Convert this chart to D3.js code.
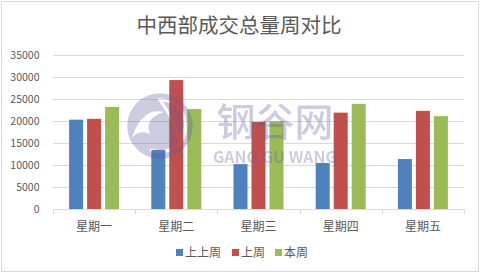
<!DOCTYPE html>
<html>
<head>
<meta charset="utf-8">
<script src="https://cdn.jsdelivr.net/npm/d3@7"></script>
<style>
  body { margin: 0; background: #fff; }
  text { font-family: "Noto Sans CJK SC", "Liberation Sans", sans-serif; }
</style>
</head>
<body>
<div id="chart"></div>
<script>
// chart data
var title = "中西部成交总量周对比";
var days = ["星期一", "星期二", "星期三", "星期四", "星期五"];
var seriesNames = ["上上周", "上周", "本周"];
var weekBeforeLast = [20300, 13400, 10200, 10450, 11350];
var lastWeek = [20500, 29300, 19800, 21900, 22300];
var thisWeek = [23200, 22700, 20000, 23900, 21100];
var yTicks = [0, 5000, 10000, 15000, 20000, 25000, 30000, 35000];

var colors = ["#4f81bd", "#c0504d", "#9bbb59"];
var values = [weekBeforeLast, lastWeek, thisWeek];

var W = 481, H = 273;
var plot = {left: 53, right: 464, top: 55, bottom: 209};

var svg = d3.select("#chart").append("svg")
  .attr("width", W).attr("height", H);

// outer border
svg.append("rect")
  .attr("x", 1.5).attr("y", 1.5)
  .attr("width", 477).attr("height", 270)
  .attr("fill", "#fff").attr("stroke", "#d9d9d9");

// title
svg.append("text")
  .attr("x", 239).attr("y", 33)
  .attr("text-anchor", "middle")
  .attr("font-size", 20.5)
  .attr("fill", "#595959")
  .text(title);

////////// scales //////////
var x0 = d3.scaleBand().domain(days).range([plot.left, plot.right]);
var x1 = d3.scaleBand().domain(seriesNames).range([0, 50]).paddingInner(0.222);
var groupOffset = (x0.bandwidth() - 50) / 2;
var y = d3.scaleLinear().domain([0, 35000]).range([plot.bottom, plot.top]);

////////// gridlines + y labels //////////
svg.append("g").selectAll("line")
  .data(yTicks.slice(1))
  .enter().append("line")
  .attr("x1", plot.left).attr("x2", plot.right)
  .attr("y1", function(d) { return Math.round(y(d)) + 0.5; })
  .attr("y2", function(d) { return Math.round(y(d)) + 0.5; })
  .attr("stroke", "#d9d9d9");

svg.append("g").selectAll("text")
  .data(yTicks)
  .enter().append("text")
  .attr("x", 39.5)
  .attr("y", function(d) { return y(d) + 3.8; })
  .attr("text-anchor", "end")
  .attr("font-family", "Liberation Sans, Arial, sans-serif")
  .attr("font-size", 10.5)
  .attr("fill", "#595959")
  .text(function(d) { return d; });

////////// bars //////////
var groups = svg.append("g").selectAll("g")
  .data(days)
  .enter().append("g")
  .attr("transform", function(d) { return "translate(" + (x0(d) + groupOffset) + ",0)"; });

groups.selectAll("rect")
  .data(function(d, i) {
    return seriesNames.map(function(s, k) { return {s: s, k: k, v: values[k][i]}; });
  })
  .enter().append("rect")
  .attr("x", function(d) { return x1(d.s); })
  .attr("width", x1.bandwidth())
  .attr("y", function(d) { return y(d.v); })
  .attr("height", function(d) { return y(0) - y(d.v); })
  .attr("fill", function(d) { return colors[d.k]; });

////////// x axis //////////
var xAxis = svg.append("g");
xAxis.append("line")
  .attr("x1", plot.left).attr("x2", plot.right)
  .attr("y1", plot.bottom + 0.5).attr("y2", plot.bottom + 0.5)
  .attr("stroke", "#d9d9d9");
xAxis.selectAll("line.tick")
  .data(days.concat(["end"]))
  .enter().append("line")
  .attr("class", "tick")
  .attr("x1", function(d) { return Math.round(d == "end" ? plot.right : x0(d)) + 0.5; })
  .attr("x2", function(d) { return Math.round(d == "end" ? plot.right : x0(d)) + 0.5; })
  .attr("y1", plot.bottom).attr("y2", plot.bottom + 5)
  .attr("stroke", "#d9d9d9");
xAxis.selectAll("text")
  .data(days)
  .enter().append("text")
  .attr("x", function(d) { return x0(d) + x0.bandwidth() / 2; })
  .attr("y", 230.5)
  .attr("text-anchor", "middle")
  .attr("font-size", 12)
  .attr("fill", "#595959")
  .text(function(d) { return d; });

////////// legend //////////
var legendX = [176, 232, 275];
var legend = svg.append("g").selectAll("g")
  .data(seriesNames)
  .enter().append("g")
  .attr("transform", function(d, i) { return "translate(" + legendX[i] + ",249)"; });
legend.append("rect")
  .attr("width", 7).attr("height", 7)
  .attr("fill", function(d, i) { return colors[i]; });
legend.append("text")
  .attr("x", 9).attr("y", 8)
  .attr("font-size", 12)
  .attr("fill", "#595959")
  .text(function(d) { return d; });

////////// watermark //////////
var wm = svg.append("g").attr("opacity", 0.3).attr("fill", "#5a5a9a");
var defs = svg.append("defs");
var mask = defs.append("mask").attr("id", "logoMask");
mask.append("circle").attr("cx", 160).attr("cy", 126).attr("r", 33).attr("fill", "#fff");
mask.append("path")
  .attr("d", "M132,138 C138,118 150,108 164,112 C150,116 146,124 150,134 C140,130 136,134 132,138 Z")
  .attr("fill", "#000");
mask.append("path")
  .attr("d", "M160,100 C182,100 192,122 180,140 C176,126 170,114 160,100 Z")
  .attr("fill", "none").attr("stroke", "#000").attr("stroke-width", 3);
mask.append("path")
  .attr("d", "M150,150 C170,156 186,144 186,126")
  .attr("fill", "none").attr("stroke", "#000").attr("stroke-width", 3);
wm.append("circle")
  .attr("cx", 160).attr("cy", 126).attr("r", 33)
  .attr("mask", "url(#logoMask)");
wm.append("text")
  .attr("x", 275).attr("y", 136)
  .attr("text-anchor", "middle")
  .attr("font-size", 39)
  .attr("font-weight", 500)
  .text("钢谷网");
wm.append("text")
  .attr("x", 213).attr("y", 163)
  .attr("textLength", 124)
  .attr("lengthAdjust", "spacingAndGlyphs")
  .attr("font-family", "Open Sans, Liberation Sans, sans-serif")
  .attr("font-size", 15.5)
  .attr("font-weight", "bold")
  .text("GANG GU WANG");
</script>
</body>
</html>
